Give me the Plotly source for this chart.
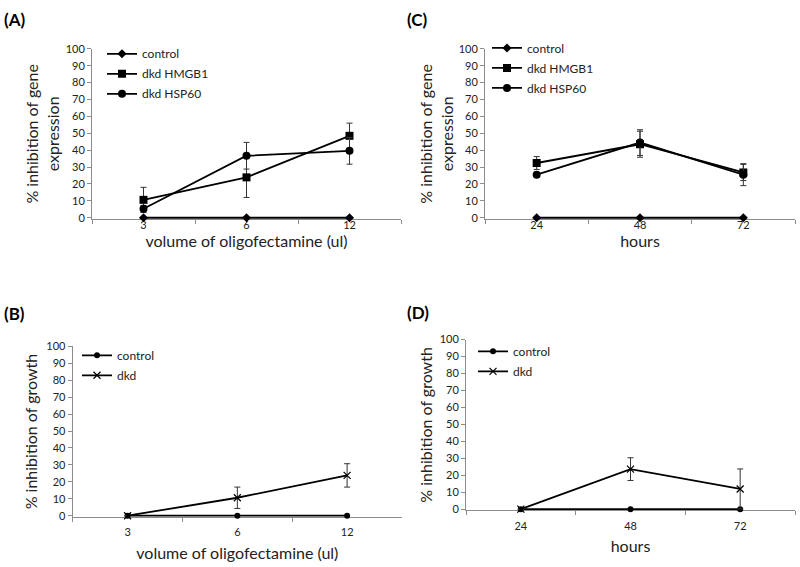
import plotly.graph_objects as go

# ---- data ----
vol_cats = ["3", "6", "12"]
hour_cats = ["24", "48", "72"]

a_control = [0, 0, 0]
a_hmgb1 = [10.6, 23.9, 48.5]
a_hmgb1_err = [7.4, 11.9, 7.5]
a_hsp60 = [5.3, 36.7, 39.6]
a_hsp60_err = [2.0, 7.9, 7.9]

c_control = [0, 0, 0]
c_hmgb1 = [32.4, 43.5, 26.8]
c_hmgb1_err = [3.8, 7.7, 4.8]
c_hsp60 = [25.5, 44.5, 25.5]
c_hsp60_err = [0.5, 7.6, 6.5]

b_control = [0, 0, 0]
b_dkd = [0, 10.6, 23.8]
b_dkd_err = [0, 6.3, 6.9]

d_control = [0, 0, 0]
d_dkd = [0, 23.6, 11.9]
d_dkd_err = [0, 6.7, 11.8]

y_ticks = list(range(0, 101, 10))

FONT = "Lato"
AXC = "#8c8c8c"
TXT = "#222222"
YMIN = -0.7

fig = go.Figure()


def err(vals):
    return dict(type="data", array=vals, visible=True, color="#333333",
                thickness=1, width=3)


def add_line(x, y, name, sym, size, xa, ya, leg, e=None):
    mk = dict(symbol=sym, size=size, color="black")
    if sym.startswith("x"):
        mk = dict(symbol="x-thin", size=size, color="black",
                  line=dict(width=1.2, color="black"))
    fig.add_trace(go.Scatter(
        x=x, y=y, name=name, mode="lines+markers",
        line=dict(color="black", width=1.8),
        marker=mk, error_y=err(e) if e is not None else None,
        cliponaxis=False, legendgroup=leg + name,
        xaxis=xa, yaxis=ya, legend=leg, showlegend=True))


# Panel A
add_line(vol_cats, a_control, "control", "diamond", 7, "x", "y", "legend")
add_line(vol_cats, a_hmgb1, "dkd HMGB1", "square", 8, "x", "y", "legend", a_hmgb1_err)
add_line(vol_cats, a_hsp60, "dkd HSP60", "circle", 8, "x", "y", "legend", a_hsp60_err)
# Panel C
add_line(hour_cats, c_control, "control", "diamond", 7, "x2", "y2", "legend2")
add_line(hour_cats, c_hmgb1, "dkd HMGB1", "square", 8, "x2", "y2", "legend2", c_hmgb1_err)
add_line(hour_cats, c_hsp60, "dkd HSP60", "circle", 8, "x2", "y2", "legend2", c_hsp60_err)
# Panel B
add_line(vol_cats, b_control, "control", "circle", 6, "x3", "y3", "legend3")
add_line(vol_cats, b_dkd, "dkd", "x", 7, "x3", "y3", "legend3", b_dkd_err)
# Panel D
add_line(hour_cats, d_control, "control", "circle", 6, "x4", "y4", "legend4")
add_line(hour_cats, d_dkd, "dkd", "x", 7, "x4", "y4", "legend4", d_dkd_err)

W, H = 800, 567


def xd(a, b):
    return [a / W, b / W]


def yd(top, zero):
    ppu = (zero - top) / 100.0
    bottom = zero - YMIN * ppu
    return [1 - bottom / H, 1 - top / H]


def xaxis(dom, title, anchor, standoff, lblstand):
    return dict(domain=dom, anchor=anchor, type="category", range=[-0.5, 2.5],
                showline=True, linecolor=AXC, linewidth=1, ticks="outside",
                tickson="boundaries", ticklen=4, tickcolor=AXC,
                showgrid=False, zeroline=False, layer="below traces",
                ticklabelstandoff=lblstand,
                tickfont=dict(family=FONT, size=11, color=TXT),
                title=dict(text=title, font=dict(family=FONT, size=16, color=TXT),
                           standoff=standoff))


def yaxis(dom, title, anchor, standoff):
    return dict(domain=dom, anchor=anchor, range=[YMIN, 100], tickvals=y_ticks,
                showline=True, linecolor=AXC, linewidth=1, ticks="outside",
                ticklen=4, tickcolor=AXC, showgrid=False, zeroline=False,
                layer="below traces",
                tickfont=dict(family=FONT, size=11, color=TXT),
                title=dict(text=title, font=dict(family=FONT, size=16, color=TXT),
                           standoff=standoff))


def legend(x, y):
    return dict(x=x / W, y=1 - y / H, xanchor="left", yanchor="top",
                bgcolor="rgba(0,0,0,0)", font=dict(family=FONT, size=12, color=TXT),
                traceorder="grouped", tracegroupgap=1, itemwidth=30)


fig.update_layout(
    width=W, height=H, margin=dict(l=0, r=0, t=0, b=0),
    paper_bgcolor="white", plot_bgcolor="white",
    xaxis=xaxis(xd(92, 401), "volume of oligofectamine (ul)", "y", 4, -4),
    yaxis=yaxis(yd(42.7, 215.3), "% inhibition of gene<br>expression", "x", 2),
    xaxis2=xaxis(xd(485, 795), "hours", "y2", 4, -4),
    yaxis2=yaxis(yd(42.7, 215.3), "% inhibition of gene<br>expression", "x2", 1),
    xaxis3=xaxis(xd(72.7, 402), "volume of oligofectamine (ul)", "y3", 10, 5),
    yaxis3=yaxis(yd(346.7, 519.7), "% inhibition of growth", "x3", 4),
    xaxis4=xaxis(xd(466, 795), "hours", "y4", 10, 5),
    yaxis4=yaxis(yd(339.7, 513), "% inhibition of growth", "x4", 3),
    legend=legend(102, 33),
    legend2=legend(487, 27),
    legend3=legend(77, 341),
    legend4=legend(473, 337),
)

for txt, x, y in [("(A)", 2, 13), ("(C)", 405, 13), ("(B)", 2, 313), ("(D)", 405, 312)]:
    fig.add_annotation(text="<b>" + txt + "</b>", x=x / W, y=1 - y / H,
                       xref="paper", yref="paper", xanchor="left", yanchor="middle",
                       showarrow=False, font=dict(family=FONT, size=17, color="black"))

fig.write_html("out.html", config={"displayModeBar": False},
               post_script="document.body.style.margin='0';document.body.style.overflow='hidden';")
